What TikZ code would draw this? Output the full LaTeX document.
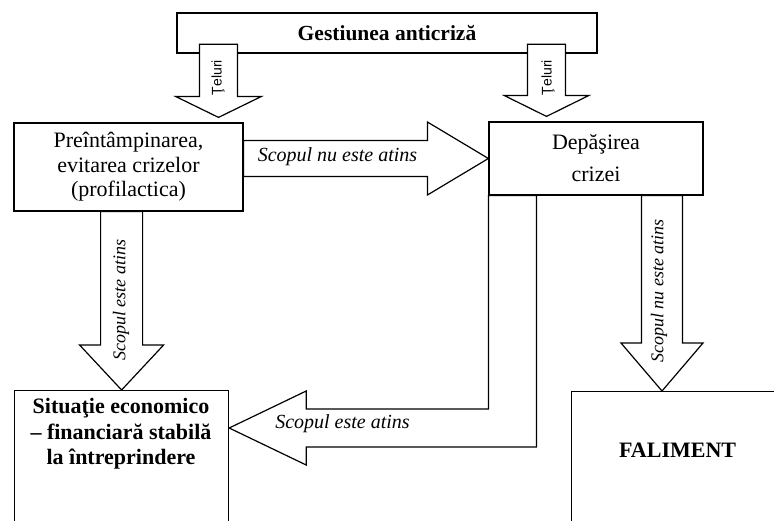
\documentclass[tikz,border=0pt]{standalone}
\usepackage{fontspec}
\setmainfont{Liberation Serif}
\newfontfamily\labelsans{Liberation Sans}
\usetikzlibrary{calc}

% Block arrow pointing down: #1 top of shaft, #2 tip, #3 shaft half-width,
% #4 head half-width, #5 head length
\newcommand{\downblock}[5]{%
  \draw[blockarrow] let \p1=(#1), \p2=(#2) in
    (\x2-#3,\y1) -- (\x2-#3,\y2+#5) -- (\x2-#4,\y2+#5) -- (\x2,\y2)
    -- (\x2+#4,\y2+#5) -- (\x2+#3,\y2+#5) -- (\x2+#3,\y1) -- cycle;}
% Block arrow pointing right: #1 start of shaft, #2 tip, same sizes
\newcommand{\rightblock}[5]{%
  \draw[blockarrow] let \p1=(#1), \p2=(#2) in
    (\x1,\y2+#3) -- (\x2-#5,\y2+#3) -- (\x2-#5,\y2+#4) -- (\x2,\y2)
    -- (\x2-#5,\y2-#4) -- (\x2-#5,\y2-#3) -- (\x1,\y2-#3) -- cycle;}

\begin{document}
\begin{tikzpicture}[x=1pt,y=-1pt,
  box/.style={draw, line width=1.2pt, rectangle, inner sep=0pt},
  blockarrow/.style={draw, line width=1.2pt, fill=white, line join=miter},
  boxtext/.style={font=\fontsize{22}{24.5}\selectfont, align=center},
  boldtext/.style={font=\bfseries\fontsize{22}{25.5}\selectfont, align=center},
  arrowtext/.style={font=\itshape\fontsize{20}{22}\selectfont, inner sep=0pt},
  vtext/.style={font=\itshape\fontsize{18}{20}\selectfont, inner sep=0pt, rotate=90},
  goaltext/.style={font=\labelsans\fontsize{14}{16}\selectfont, inner sep=0pt, rotate=90}]

\useasboundingbox (0,0) rectangle (774,520);
\clip (0,0) rectangle (774,520);

% boxes
\node[box, line width=2.6pt, minimum width=420pt, minimum height=40pt,
      font=\bfseries\fontsize{21.5}{24}\selectfont] (gest) at (387,33) {Gestiunea anticriză};
\node[box, minimum width=229pt, minimum height=88pt, boxtext] (prev) at (128.5,167)
  {Preîntâmpinarea,\\ evitarea crizelor\\ (profilactica)};
\node[box, minimum width=214pt, minimum height=73pt,
      font=\fontsize{22}{32}\selectfont, align=center] (dep) at (596,158.5) {Depăşirea\\ crizei};
\node[box, anchor=north west, minimum width=214pt, minimum height=200pt] (sit) at (14,390) {};
\node[boldtext] (sittxt) at (121,434) {Situaţie economico\\ – financiară stabilă\\ la întreprindere};
\node[box, anchor=north west, minimum width=212pt, minimum height=200pt] (fal) at (571,391) {};
\node[boldtext] (faltxt) at ($(fal.north)+(0,59)$) {FALIMENT};

% goals arrows from the top box
\coordinate (g1) at ($(prev.north)+(90,-5)$);
\coordinate (g2) at ($(dep.north)+(-49.5,-5)$);
\downblock{$(g1 |- gest.south)+(0,-10)$}{g1}{19pt}{43pt}{21pt}
\downblock{$(g2 |- gest.south)+(0,-10)$}{g2}{19pt}{42.5pt}{21pt}
\node[goaltext] (tel1) at (218,77.5) {Ţeluri};
\node[goaltext] (tel2) at (548,77.5) {Ţeluri};

% prevention fails -> overcoming the crisis
\rightblock{prev.east}{dep.west}{18pt}{36.5pt}{61pt}
\node[arrowtext, anchor=base] (m1) at (337.5,161) {Scopul nu este atins};

% prevention succeeds -> stable situation
\downblock{sit.north |- prev.south}{sit.north}{21pt}{42pt}{45pt}
\node[vtext] (v1) at (121,300) {Scopul este atins};

% overcoming fails -> bankruptcy
\coordinate (f1) at ($(fal.north west)+(91,0)$);
\downblock{f1 |- dep.south}{f1}{20.5pt}{41pt}{48pt}
\node[vtext] (v2) at (659,291) {Scopul nu este atins};

% overcoming succeeds -> stable situation (L-shaped arrow)
\coordinate (s1) at ($(sit.north east)+(0,38)$);
\draw[blockarrow] let \p1=(dep.south west), \p2=(s1) in
  (\x1,\y1) -- (\x1,\y2+19pt) -- (\x2+77pt,\y2+19pt) -- (\x2+77pt,\y2+37pt) -- (\x2,\y2)
  -- (\x2+77pt,\y2-37pt) -- (\x2+77pt,\y2-19pt) -- (\x1+48pt,\y2-19pt) -- (\x1+48pt,\y1) -- cycle;
\node[arrowtext, anchor=base] (m2) at (342.5,428) {Scopul este atins};

\end{tikzpicture}
\end{document}
